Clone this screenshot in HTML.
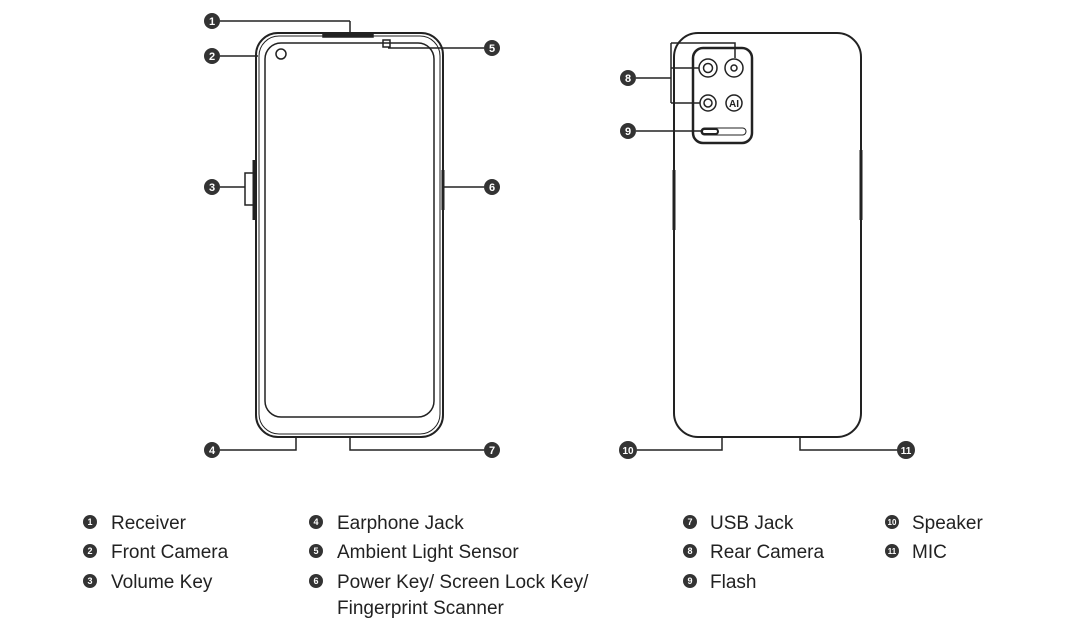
<!DOCTYPE html>
<html><head><meta charset="utf-8"><style>
html,body{margin:0;padding:0;background:#fff;}
svg{display:block;}
text{font-family:"Liberation Sans",sans-serif;}
</style></head><body>
<svg width="1078" height="623" viewBox="0 0 1078 623" xmlns="http://www.w3.org/2000/svg">
<g fill="none" stroke="#222" stroke-width="1.5">
<!-- front phone -->
<rect x="256" y="33" width="187" height="404" rx="22" stroke-width="2"/>
<rect x="259" y="36" width="181" height="398" rx="20" stroke-width="1"/>
<rect x="265" y="43" width="169" height="374" rx="16" stroke-width="1.5"/>
<rect x="323" y="33" width="50" height="4" fill="#222"/>
<circle cx="281" cy="54" r="5"/>
<rect x="383" y="40" width="7" height="7"/>
<line x1="220" y1="21" x2="350" y2="21"/><line x1="350" y1="21" x2="350" y2="33"/>
<line x1="220" y1="56" x2="258" y2="56"/>
<line x1="484" y1="48" x2="388" y2="48"/>
<line x1="220" y1="187" x2="245" y2="187"/>
<polyline points="256,173 245,173 245,205 256,205"/>
<line x1="254" y1="160" x2="254" y2="220" stroke-width="3"/>
<line x1="443" y1="187" x2="484" y2="187"/>
<line x1="443" y1="170" x2="443" y2="210" stroke-width="3"/>
<polyline points="220,450 296,450 296,437"/>
<polyline points="350,437 350,450 484,450"/>
<!-- back phone -->
<rect x="674" y="33" width="187" height="404" rx="24" stroke-width="2"/>
<rect x="693" y="48" width="59" height="95" rx="10" stroke-width="2.5"/>
<circle cx="708" cy="68" r="9"/><circle cx="708" cy="68" r="4.5"/>
<circle cx="734" cy="68" r="9"/><circle cx="734" cy="68" r="3"/>
<circle cx="708" cy="103" r="8"/><circle cx="708" cy="103" r="4"/>
<circle cx="734" cy="103" r="8"/>
<rect x="701" y="128" width="45" height="7" rx="3.5" stroke-width="1"/>
<rect x="702" y="129" width="16" height="5" rx="2.5" stroke-width="2"/>
<polyline points="671,43 735,43 735,58"/>
<line x1="671" y1="43" x2="671" y2="103"/>
<line x1="671" y1="68" x2="699" y2="68"/>
<line x1="671" y1="103" x2="700" y2="103"/>
<line x1="636" y1="78" x2="671" y2="78"/>
<line x1="636" y1="131" x2="701" y2="131"/>
<line x1="674" y1="170" x2="674" y2="230" stroke-width="3"/>
<line x1="861" y1="150" x2="861" y2="220" stroke-width="3"/>
<polyline points="637,450 722,450 722,437"/>
<polyline points="800,437 800,450 898,450"/>
</g>
<text x="734" y="107" font-size="10" font-weight="bold" text-anchor="middle" fill="#222">AI</text>
<g fill="#333">
<circle cx="212" cy="21" r="8"/><circle cx="212" cy="56" r="8"/><circle cx="212" cy="187" r="8"/>
<circle cx="212" cy="450" r="8"/><circle cx="492" cy="48" r="8"/><circle cx="492" cy="187" r="8"/>
<circle cx="492" cy="450" r="8"/><circle cx="628" cy="78" r="8"/><circle cx="628" cy="131" r="8"/>
<circle cx="628" cy="450" r="9"/><circle cx="906" cy="450" r="9"/>
</g>
<g fill="#fff" font-size="11" font-weight="bold" text-anchor="middle">
<text x="212" y="25">1</text><text x="212" y="60">2</text><text x="212" y="191">3</text>
<text x="212" y="454">4</text><text x="492" y="52">5</text><text x="492" y="191">6</text>
<text x="492" y="454">7</text><text x="628" y="82">8</text><text x="628" y="135">9</text>
<text x="628" y="454" font-size="10">10</text><text x="906" y="454" font-size="10">11</text>
</g>
<!-- legend -->
<g fill="#333">
<circle cx="90" cy="522" r="7"/><circle cx="90" cy="551" r="7"/><circle cx="90" cy="581" r="7"/>
<circle cx="316" cy="522" r="7"/><circle cx="316" cy="551" r="7"/><circle cx="316" cy="581" r="7"/>
<circle cx="690" cy="522" r="7"/><circle cx="690" cy="551" r="7"/><circle cx="690" cy="581" r="7"/>
<circle cx="892" cy="522" r="7"/><circle cx="892" cy="551" r="7"/>
</g>
<g fill="#fff" font-size="9" font-weight="bold" text-anchor="middle">
<text x="90" y="525">1</text><text x="90" y="554">2</text><text x="90" y="584">3</text>
<text x="316" y="525">4</text><text x="316" y="554">5</text><text x="316" y="584">6</text>
<text x="690" y="525">7</text><text x="690" y="554">8</text><text x="690" y="584">9</text>
<text x="892" y="525" font-size="8">10</text><text x="892" y="554" font-size="8">11</text>
</g>
<g fill="#222" font-size="19">
<text x="111" y="529">Receiver</text>
<text x="111" y="558">Front Camera</text>
<text x="111" y="588">Volume Key</text>
<text x="337" y="529">Earphone  Jack</text>
<text x="337" y="558">Ambient Light Sensor</text>
<text x="337" y="588">Power Key/ Screen Lock Key/</text>
<text x="337" y="614">Fingerprint Scanner</text>
<text x="710" y="529">USB Jack</text>
<text x="710" y="558">Rear Camera</text>
<text x="710" y="588">Flash</text>
<text x="912" y="529">Speaker</text>
<text x="912" y="558">MIC</text>
</g>
</svg>
</body></html>
